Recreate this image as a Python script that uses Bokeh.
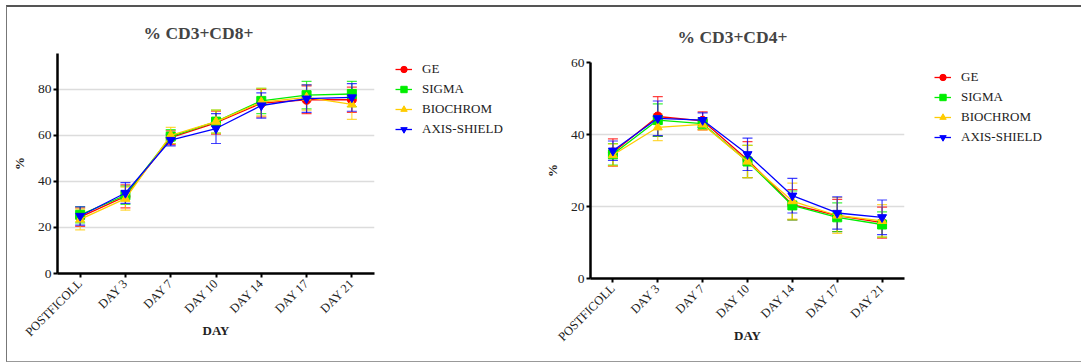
from bokeh.plotting import figure
from bokeh.models import (Range1d, FixedTicker, Legend, LegendItem, Whisker,
                          ColumnDataSource, TeeHead)
from bokeh.layouts import row, column
from bokeh.embed import file_html
from bokeh.resources import INLINE

days = ["POSTFICOLL", "DAY 3", "DAY 7", "DAY 10", "DAY 14", "DAY 17", "DAY 21"]
series = ["GE", "SIGMA", "BIOCHROM", "AXIS-SHIELD"]
colors = ["#FF0000", "#00EE00", "#FFCC00", "#0000FF"]
markers = ["circle", "square", "triangle", "inverted_triangle"]

# % CD3+CD8+
cd8_ge = [24.5, 33.5, 59.0, 65.5, 74.0, 75.5, 75.5]
cd8_ge_err = [4.0, 5.0, 3.0, 5.0, 6.0, 6.0, 5.5]
cd8_sigma = [25.5, 34.0, 59.5, 66.0, 75.0, 77.5, 78.0]
cd8_sigma_err = [3.5, 4.0, 3.0, 5.0, 5.5, 6.0, 5.5]
cd8_biochrom = [23.5, 32.5, 60.0, 66.0, 74.5, 76.5, 73.5]
cd8_biochrom_err = [4.5, 5.0, 3.5, 5.0, 6.0, 5.5, 6.5]
cd8_axis = [25.0, 35.0, 58.0, 63.0, 73.0, 76.0, 76.5]
cd8_axis_err = [4.0, 4.5, 2.5, 6.5, 5.5, 6.0, 6.0]

# % CD3+CD4+
cd4_ge = [35.0, 45.0, 43.8, 33.0, 20.5, 17.5, 15.5]
cd4_ge_err = [3.8, 5.5, 2.5, 5.0, 4.2, 4.5, 4.3]
cd4_sigma = [34.5, 44.0, 43.0, 32.5, 20.3, 17.0, 15.0]
cd4_sigma_err = [3.0, 4.5, 1.5, 4.5, 4.0, 4.0, 3.5]
cd4_biochrom = [34.3, 42.0, 42.8, 32.5, 21.5, 17.5, 16.0]
cd4_biochrom_err = [3.0, 3.7, 1.5, 4.5, 5.0, 5.0, 4.5]
cd4_axis = [35.5, 44.5, 44.0, 34.5, 23.0, 18.2, 17.0]
cd4_axis_err = [2.7, 4.8, 2.0, 4.5, 4.8, 4.5, 4.8]

FONT = "Liberation Serif"
H = 354
XS = list(range(len(days)))


def make_panel(title, means, errs, ymax, yticks, mb, fw, fh, title_off,
               title_standoff):
    p = figure(frame_width=fw, frame_height=fh, output_backend="svg",
               toolbar_location=None, x_range=Range1d(-0.5, 6.5),
               y_range=Range1d(0, ymax),
               min_border_left=mb[0], min_border_right=mb[1],
               min_border_top=mb[2], min_border_bottom=mb[3])
    p.title.text = title
    p.title.text_font = FONT
    p.title.text_font_size = "17.5px"
    p.title.text_font_style = "bold"
    p.title.align = "left"
    p.title.offset = title_off
    p.title.standoff = title_standoff
    p.outline_line_color = None
    p.background_fill_color = "white"
    p.border_fill_color = "white"
    p.xgrid.grid_line_color = None
    p.ygrid.grid_line_color = "#dcdcdc"
    p.ygrid.grid_line_width = 1.5
    p.ygrid.ticker = FixedTicker(ticks=yticks[1:])

    p.xaxis.ticker = FixedTicker(ticks=XS)
    p.xaxis.major_label_overrides = {i: d for i, d in enumerate(days)}
    p.xaxis.major_label_orientation = 0.785398
    p.yaxis.ticker = FixedTicker(ticks=yticks)
    for ax in (p.xaxis, p.yaxis):
        ax.axis_line_width = 2.5
        ax.axis_line_color = "black"
        ax.major_tick_line_color = "black"
        ax.major_tick_line_width = 2
        ax.major_tick_out = 4
        ax.major_tick_in = 0
        ax.minor_tick_line_color = None
        ax.major_label_text_font = FONT
        ax.major_label_text_color = "#222222"
        ax.axis_label_text_font = FONT
        ax.axis_label_text_font_size = "13px"
        ax.axis_label_text_font_style = "bold"
        ax.axis_label_text_color = "#222222"
    p.xaxis.major_label_text_font_size = "12.5px"
    p.yaxis.major_label_text_font_size = "13.5px"
    p.yaxis.major_label_standoff = 2
    p.xaxis.major_label_standoff = 4
    p.yaxis.axis_label = "%"
    p.yaxis.axis_label_standoff = 8
    p.xaxis.axis_label = "DAY"
    p.xaxis.axis_label_standoff = -24

    for name, col, mk, m, e in zip(series, colors, markers, means, errs):
        src = ColumnDataSource(dict(x=XS, y=m,
                                    lo=[a - b for a, b in zip(m, e)],
                                    hi=[a + b for a, b in zip(m, e)]))
        w = Whisker(source=src, base="x", upper="hi", lower="lo",
                    line_color=col, line_alpha=0.75, line_width=1.2,
                    upper_head=TeeHead(size=10, line_color=col, line_alpha=0.75, line_width=1.2),
                    lower_head=TeeHead(size=10, line_color=col, line_alpha=0.75, line_width=1.2))
        p.add_layout(w)
        p.line("x", "y", source=src, line_color=col, line_width=1.3)
        p.scatter("x", "y", source=src, marker=mk, size=9,
                  fill_color=col, line_color=col)
    return p


def make_legend(width, loc, means):
    # legend-only panel: the series are drawn outside its (empty) view range,
    # only their legend glyphs show
    q = figure(width=width, height=H, output_backend="svg",
               toolbar_location=None, x_range=Range1d(-30, -20),
               y_range=Range1d(-30, -20), min_border=0,
               x_axis_location=None, y_axis_location=None)
    q.outline_line_color = None
    q.grid.grid_line_color = None
    q.border_fill_color = "white"
    q.background_fill_color = "white"
    items = []
    for name, col, mk, m in zip(series, colors, markers, means):
        src = ColumnDataSource(dict(x=XS, y=m))
        ln = q.line("x", "y", source=src, line_color=col, line_width=1.3)
        sc = q.scatter("x", "y", source=src, marker=mk, size=9,
                       fill_color=col, line_color=col)
        items.append(LegendItem(label=name, renderers=[ln, sc]))
    leg = Legend(items=items, location=loc, border_line_color=None,
                 background_fill_alpha=0, padding=5, margin=0,
                 glyph_width=17, glyph_height=16, label_height=16,
                 spacing=4, label_standoff=10,
                 label_text_font=FONT, label_text_font_size="13px",
                 label_text_color="#222222")
    q.add_layout(leg)
    return q


cd8 = [cd8_ge, cd8_sigma, cd8_biochrom, cd8_axis]
cd4 = [cd4_ge, cd4_sigma, cd4_biochrom, cd4_axis]

p1 = make_panel("% CD3+CD8+", cd8,
                [cd8_ge_err, cd8_sigma_err, cd8_biochrom_err, cd8_axis_err],
                95.6, [0, 20, 40, 60, 80], (50, 10, 46, 88), 317, 220, 86, 22)
l1 = make_legend(156, (11, 224), cd8)
p2 = make_panel("% CD3+CD4+", cd4,
                [cd4_ge_err, cd4_sigma_err, cd4_biochrom_err, cd4_axis_err],
                60, [0, 20, 40, 60], (50, 10, 55, 83), 314, 216, 87, 32)
l2 = make_legend(167, (20, 216), cd4)

layout = row(column(p1), column(l1), column(p2), column(l2),
             styles={"margin-top": "5px", "margin-left": "6px",
                     "border-top": "2px solid #555",
                     "border-left": "1px solid #777",
                     "border-bottom": "1px solid #999"})

open("out.html", "w").write(file_html(layout, INLINE))
